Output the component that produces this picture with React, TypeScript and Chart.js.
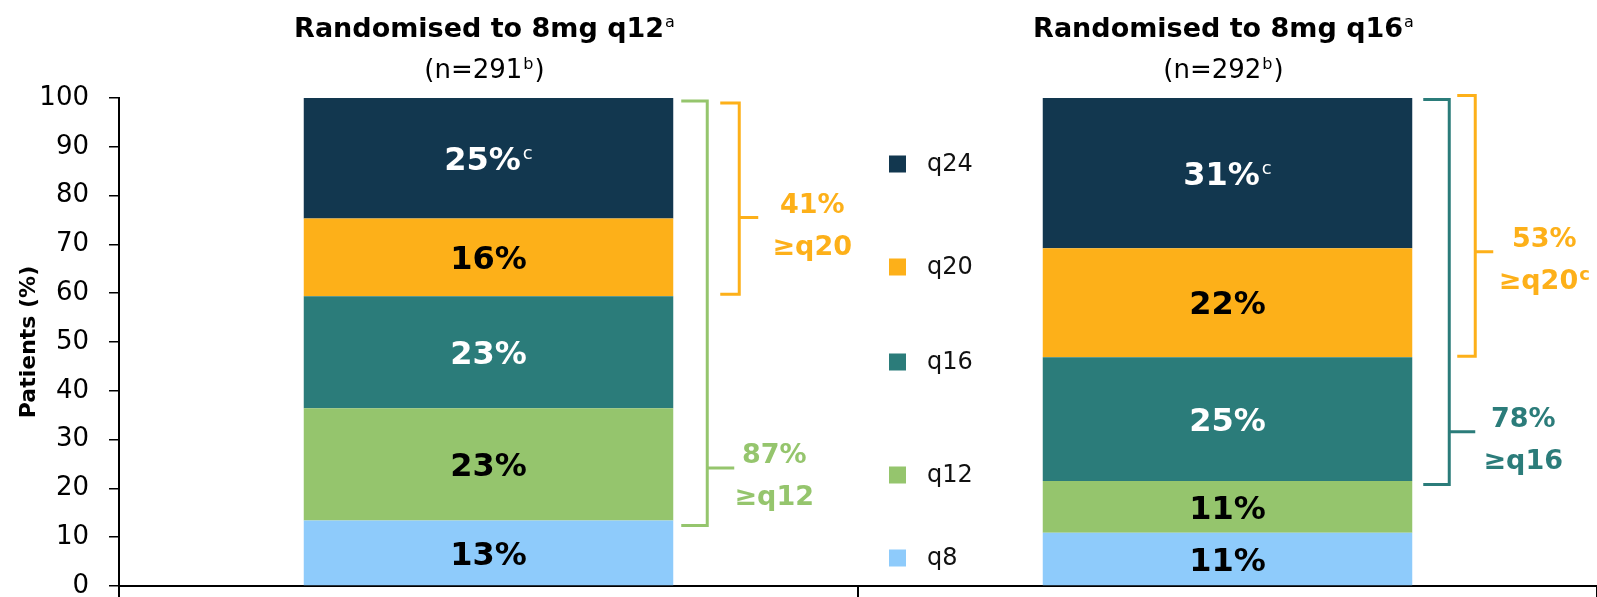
import React, { useEffect, useRef } from "react";
import { Chart, registerables } from "chart.js";

Chart.register(...registerables);

// ---------- data ----------
const categories = ["Randomised to 8mg q12", "Randomised to 8mg q16"];
const categorySup = ["a", "a"];
const sampleSizes = ["(n=291", "(n=292"];
const sampleSup = ["b", "b"];
const sampleClose = [")", ")"];

const seriesNames = ["q8", "q12", "q16", "q20", "q24"];
const q8Values = [13.4, 10.9];
const q12Values = [23.0, 10.6];
const q16Values = [23.0, 25.4];
const q20Values = [15.9, 22.3];
const q24Values = [24.7, 30.8];
const seriesLabelSup = ["", "", "", "", "c"];

const yTickValues = [0, 10, 20, 30, 40, 50, 60, 70, 80, 90, 100];
const yAxisTitle = "Patients (%)";

const bracketCategory = [0, 0, 1, 1];
const bracketBottom = [12.4, 59.8, 20.8, 47.1];
const bracketTop = [99.4, 99.0, 99.7, 100.5];
const bracketMid = [24.2, 75.5, 31.6, 68.5];
const bracketPercent = ["87%", "41%", "78%", "53%"];
const bracketText = ["\u2265q12", "\u2265q20", "\u2265q16", "\u2265q20"];
const bracketSup = ["", "", "", "c"];

// ---------- styles ----------
const FONT = "'DejaVu Sans', sans-serif";
const seriesColors = ["#8ECBFB", "#95C56D", "#2B7C7A", "#FDB019", "#12374F"];
const labelColors = ["#000000", "#000000", "#FFFFFF", "#000000", "#FFFFFF"];
const bracketColors = ["#95C56D", "#FDB019", "#2B7C7A", "#FDB019"];
const bracketLayout = [
  { left: 8, spine: 34, tip: 61, textX: 101 },
  { left: 47, spine: 66, tip: 85, textX: 139 },
  { left: 11, spine: 37, tip: 63, textX: 111 },
  { left: 45, spine: 63, tip: 81, textX: 132 },
];
const legendLayout = { squareX: 889, size: 17, textX: 927, y: [558, 475, 362, 267, 164] };

function drawSupText(
  ctx: CanvasRenderingContext2D,
  main: string,
  sup: string,
  cx: number,
  baseline: number,
  font: string,
  supFont: string,
  raise: number,
  gap: number,
  color: string
) {
  ctx.font = font;
  const w1 = ctx.measureText(main).width;
  let w2 = 0;
  if (sup) {
    ctx.font = supFont;
    w2 = ctx.measureText(sup).width + gap;
  }
  const x0 = cx - (w1 + w2) / 2;
  ctx.fillStyle = color;
  ctx.textAlign = "left";
  ctx.textBaseline = "alphabetic";
  ctx.font = font;
  ctx.fillText(main, x0, baseline);
  if (sup) {
    ctx.font = supFont;
    ctx.fillText(sup, x0 + w1 + gap, baseline - raise);
  }
  return x0 + w1 + w2;
}

const overlayPlugin = {
  id: "overlay",
  afterDatasetsDraw(chart: any) {
    const ctx: CanvasRenderingContext2D = chart.ctx;
    const xs = chart.scales.x;
    const ys = chart.scales.y;
    ctx.save();

    // segment labels
    chart.data.datasets.forEach((ds: any, di: number) => {
      const meta = chart.getDatasetMeta(di);
      meta.data.forEach((bar: any, i: number) => {
        const v = ds.data[i];
        const cy = (bar.y + bar.base) / 2;
        const size = 32;
        drawSupText(
          ctx,
          Math.round(v) + "%",
          seriesLabelSup[di],
          bar.x,
          cy + size * 0.364,
          `bold ${size}px ${FONT}`,
          `18px ${FONT}`,
          11,
          2,
          labelColors[di]
        );
      });
    });

    // titles
    categories.forEach((c, i) => {
      const cx = xs.getPixelForValue(i) - 4;
      drawSupText(ctx, c, categorySup[i], cx, 37, `bold 27px ${FONT}`, `16px ${FONT}`, 10, 1, "#000");
      const a = sampleSizes[i];
      ctx.font = `26px ${FONT}`;
      const wa = ctx.measureText(a).width;
      ctx.font = `16px ${FONT}`;
      const wb = ctx.measureText(sampleSup[i]).width;
      ctx.font = `26px ${FONT}`;
      const wc = ctx.measureText(sampleClose[i]).width;
      const x0 = cx - (wa + wb + wc + 2) / 2;
      ctx.fillStyle = "#000";
      ctx.textAlign = "left";
      ctx.textBaseline = "alphabetic";
      ctx.fillText(a, x0, 78);
      ctx.font = `16px ${FONT}`;
      ctx.fillText(sampleSup[i], x0 + wa + 1, 69);
      ctx.font = `26px ${FONT}`;
      ctx.fillText(sampleClose[i], x0 + wa + wb + 2, 78);
    });

    // brackets
    bracketCategory.forEach((ci, bi) => {
      const meta = chart.getDatasetMeta(0);
      const bar: any = meta.data[ci];
      const right = bar.x + bar.width / 2;
      const L = bracketLayout[bi];
      const yt = ys.getPixelForValue(bracketTop[bi]);
      const yb = ys.getPixelForValue(bracketBottom[bi]);
      const ym = ys.getPixelForValue(bracketMid[bi]);
      ctx.strokeStyle = bracketColors[bi];
      ctx.lineWidth = 3;
      ctx.lineJoin = "miter";
      ctx.lineCap = "butt";
      ctx.beginPath();
      ctx.moveTo(right + L.left, yt);
      ctx.lineTo(right + L.spine, yt);
      ctx.lineTo(right + L.spine, yb);
      ctx.lineTo(right + L.left, yb);
      ctx.moveTo(right + L.spine, ym);
      ctx.lineTo(right + L.tip, ym);
      ctx.stroke();
      const tx = right + L.textX;
      drawSupText(ctx, bracketPercent[bi], "", tx, ym - 5, `bold 27px ${FONT}`, `16px ${FONT}`, 0, 0, bracketColors[bi]);
      drawSupText(ctx, bracketText[bi], bracketSup[bi], tx, ym + 37, `bold 27px ${FONT}`, `bold 18px ${FONT}`, 9, 1, bracketColors[bi]);
    });

    // legend
    seriesNames.forEach((name, si) => {
      const cy = legendLayout.y[si];
      ctx.fillStyle = seriesColors[si];
      ctx.fillRect(legendLayout.squareX, cy - legendLayout.size / 2, legendLayout.size, legendLayout.size);
      ctx.fillStyle = "#111";
      ctx.font = `24px ${FONT}`;
      ctx.textAlign = "left";
      ctx.textBaseline = "middle";
      ctx.fillText(name, legendLayout.textX, cy + 1);
    });

    ctx.restore();
  },
};

export default function App() {
  const canvasRef = useRef<HTMLCanvasElement | null>(null);

  useEffect(() => {
    document.body.style.margin = "0";
    const canvas = canvasRef.current;
    if (!canvas) return;
    const seriesValues = [q8Values, q12Values, q16Values, q20Values, q24Values];
    const chart = new Chart(canvas, {
      type: "bar",
      data: {
        labels: categories,
        datasets: seriesNames.map((name, i) => ({
          label: name,
          data: seriesValues[i],
          backgroundColor: seriesColors[i],
          borderWidth: 0,
          barPercentage: 0.5,
          categoryPercentage: 1,
        })),
      },
      options: {
        responsive: false,
        animation: false,
        devicePixelRatio: 1,
        layout: { padding: { top: 98, left: 0, right: 0, bottom: 0 } },
        plugins: {
          legend: { display: false },
          tooltip: { enabled: false },
          title: { display: false },
        },
        scales: {
          x: {
            stacked: true,
            offset: true,
            grid: {
              offset: true,
              drawOnChartArea: false,
              drawTicks: true,
              tickLength: 11,
              color: "#000",
              lineWidth: 2,
            },
            border: { display: true, color: "#000", width: 2 },
            ticks: { display: false },
            afterFit: (s: any) => {
              s.height = 11;
            },
          },
          y: {
            stacked: true,
            min: 0,
            max: 100,
            afterBuildTicks: (s: any) => {
              s.ticks = yTickValues.map((v) => ({ value: v }));
            },
            grid: {
              drawOnChartArea: false,
              drawTicks: true,
              tickLength: 10,
              color: "#000",
              lineWidth: 1.5,
            },
            border: { display: true, color: "#000", width: 2 },
            ticks: {
              padding: 20,
              color: "#000",
              font: { family: "'DejaVu Sans', sans-serif", size: 26 },
            },
            title: {
              display: true,
              text: yAxisTitle,
              color: "#000",
              font: { family: "'DejaVu Sans', sans-serif", size: 22, weight: "bold" },
              padding: { top: 16, bottom: 0 },
            },
            afterFit: (s: any) => {
              s.width = 119;
              s.paddingTop = 0;
              s.paddingBottom = 0;
            },
          },
        },
      },
      plugins: [overlayPlugin],
    });
    return () => chart.destroy();
  }, []);

  return (
    <div style={{ width: 1597, height: 597 }}>
      <canvas ref={canvasRef} width={1597} height={597} style={{ display: "block" }} />
    </div>
  );
}
